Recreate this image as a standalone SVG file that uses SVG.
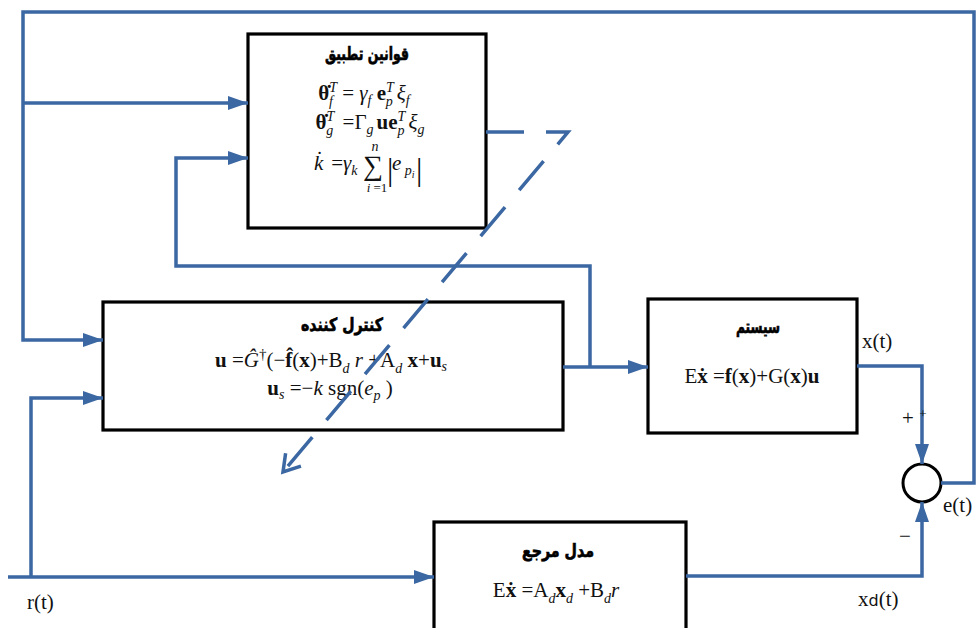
<svg xmlns="http://www.w3.org/2000/svg" width="976" height="628" viewBox="0 0 976 628">
<defs>
<style>
.box{fill:#fff;stroke:#000;stroke-width:3.2}
.ln{fill:none;stroke:#3B67A2;stroke-width:3.5}
.dash{fill:none;stroke:#3B67A2;stroke-width:3.5;stroke-dasharray:38 22}
.fa{font-family:"DejaVu Sans","Noto Sans",sans-serif;font-weight:bold;font-size:18px;fill:#000;stroke:#000;stroke-width:0.7}
.eq{font-family:"Liberation Serif","Times New Roman",serif;font-size:21px;fill:#111}
.lbl{font-family:"Liberation Serif","Times New Roman",serif;font-size:21px;fill:#111}
.b{font-weight:bold}
.i{font-style:italic}
.sub{font-size:14px;font-style:italic}
.sup{font-size:14px;font-style:italic}
</style>
<marker id="arr" markerUnits="userSpaceOnUse" markerWidth="20" markerHeight="14" refX="20" refY="7" orient="auto">
<path d="M0,0 L20,7 L0,14 z" fill="#3B67A2"/>
</marker>
<marker id="open" markerUnits="userSpaceOnUse" markerWidth="24" markerHeight="24" refX="20" refY="12" orient="auto">
<path d="M4,2 L20,12 L4,22" fill="none" stroke="#3B67A2" stroke-width="3.5"/>
</marker>
</defs>
<rect width="976" height="628" fill="#fff"/>

<g id="adaptation">
<rect class="box" x="248" y="34" width="238" height="194"/>
<text class="fa" x="367" y="60" text-anchor="middle" direction="rtl" textLength="84" lengthAdjust="spacingAndGlyphs">قوانین تطبیق</text>
<text class="eq" x="364" y="100" text-anchor="middle"><tspan class="b">θ̇</tspan><tspan class="sup" dy="-8">T</tspan><tspan class="sub" dx="-8" dy="14">f</tspan><tspan dy="-6" dx="4"> = </tspan><tspan class="i">γ</tspan><tspan class="sub" dy="5">f</tspan><tspan class="b" dy="-5"> e</tspan><tspan class="sup" dy="-8">T</tspan><tspan class="sub" dx="-8" dy="14">p</tspan><tspan class="i" dy="-6" dx="4">ξ</tspan><tspan class="sub" dy="5">f</tspan></text>
<text class="eq" x="370" y="129" text-anchor="middle"><tspan class="b">θ̇</tspan><tspan class="sup" dy="-8">T</tspan><tspan class="sub" dx="-8" dy="14">g</tspan><tspan dy="-6" dx="4"> =Γ</tspan><tspan class="sub" dy="5">g</tspan><tspan class="b" dy="-5" dx="3">ue</tspan><tspan class="sup" dy="-8">T</tspan><tspan class="sub" dx="-8" dy="14">p</tspan><tspan class="i" dy="-6" dx="4">ξ</tspan><tspan class="sub" dy="5">g</tspan></text>
<text class="eq" y="170"><tspan x="314" class="i">k̇</tspan><tspan x="326"> =</tspan><tspan x="343" class="i">γ</tspan><tspan class="sub" dy="5">k</tspan></text>
<text class="eq" x="373" y="175" style="font-size:28px" text-anchor="middle">∑</text>
<text class="eq i" x="375" y="151" style="font-size:14px" text-anchor="middle">n</text>
<text class="eq" x="377" y="192" style="font-size:13px" text-anchor="middle"><tspan class="i">i</tspan> =1</text>
<text class="eq" x="387" y="180" style="font-size:32px">|</text>
<text class="eq" y="170"><tspan x="392" class="i">e</tspan><tspan class="sub" dy="5"> p</tspan><tspan style="font-size:10px" class="i" dy="3">i</tspan></text>
<text class="eq" x="416" y="180" style="font-size:32px">|</text>
</g>

<g id="controller">
<rect class="box" x="103" y="302" width="460" height="128"/>
<text class="fa" x="342" y="331" text-anchor="middle" direction="rtl" textLength="82" lengthAdjust="spacingAndGlyphs">کنترل کننده</text>
<text class="eq" x="331" y="367" text-anchor="middle"><tspan class="b">u</tspan> =<tspan class="i">Ĝ</tspan><tspan dy="-8" style="font-size:15px">†</tspan><tspan dy="8">(−</tspan><tspan class="b">f̂</tspan>(<tspan class="b">x</tspan>)+B<tspan class="sub" dy="6">d</tspan><tspan dy="-6" class="i"> r</tspan> +A<tspan class="sub" dy="6">d</tspan><tspan dy="-6" class="b"> x</tspan>+<tspan class="b">u</tspan><tspan class="sub" dy="4">s</tspan></text>
<text class="eq" x="330" y="395" text-anchor="middle"><tspan class="b">u</tspan><tspan class="sub" dy="4">s</tspan><tspan dy="-4"> =−</tspan><tspan class="i">k</tspan> sgn(<tspan class="i">e</tspan><tspan class="sub" dy="5">p</tspan><tspan dy="-5"> )</tspan></text>
</g>

<g id="system">
<rect class="box" x="648" y="299" width="209" height="134"/>
<text class="fa" x="758" y="333" text-anchor="middle" direction="rtl" textLength="44" lengthAdjust="spacingAndGlyphs">سیستم</text>
<text class="eq" x="752" y="383" text-anchor="middle">E<tspan class="b">ẋ</tspan> =<tspan class="b">f</tspan>(<tspan class="b">x</tspan>)+G(<tspan class="b">x</tspan>)<tspan class="b">u</tspan></text>
</g>

<g id="reference">
<rect class="box" x="434" y="522" width="252" height="120"/>
<text class="fa" x="558" y="557" text-anchor="middle" direction="rtl" textLength="72" lengthAdjust="spacingAndGlyphs">مدل مرجع</text>
<text class="eq" x="556" y="597" text-anchor="middle">E<tspan class="b">ẋ</tspan> =A<tspan class="sub" dy="6">d</tspan><tspan class="b" dy="-6">x</tspan><tspan class="sub" dy="6">d</tspan><tspan dy="-6"> +B</tspan><tspan class="sub" dy="6">d</tspan><tspan class="i" dy="-6">r</tspan></text>
</g>

<g id="sum">
<circle cx="922" cy="483" r="19" fill="#fff" stroke="#000" stroke-width="3"/>
</g>

<g id="connectors">
<path class="ln" d="M941,483 H974 V12 H23 V340 H103" marker-end="url(#arr)"/>
<path class="ln" d="M23,103 H248" marker-end="url(#arr)"/>
<path class="ln" d="M590,367 V266 H176 V158 H248" marker-end="url(#arr)"/>
<path class="ln" d="M563,367 H648" marker-end="url(#arr)"/>
<path class="ln" d="M857,366 H922 V464" marker-end="url(#arr)"/>
<path class="ln" d="M686,576 H922 V502" marker-end="url(#arr)"/>
<path class="ln" d="M8,577 H434" marker-end="url(#arr)"/>
<path class="ln" d="M31,577 V398 H103" marker-end="url(#arr)"/>
<path class="dash" d="M486,132 H568 L283,472" marker-end="url(#open)"/>
</g>

<g id="labels">
<text class="lbl" x="862" y="348">x(t)</text>
<text class="lbl" x="943" y="512">e(t)</text>
<text class="lbl" x="858" y="606">x<tspan font-family="DejaVu Sans, sans-serif" style="font-size:16px">d</tspan>(t)</text>
<text class="lbl" x="27" y="609">r(t)</text>
<text class="lbl" x="902" y="425">+</text>
<text class="lbl" x="923" y="418" style="font-size:13px" text-anchor="middle">+</text>
<text class="lbl" x="905" y="543" text-anchor="middle">−</text>
</g>
</svg>
